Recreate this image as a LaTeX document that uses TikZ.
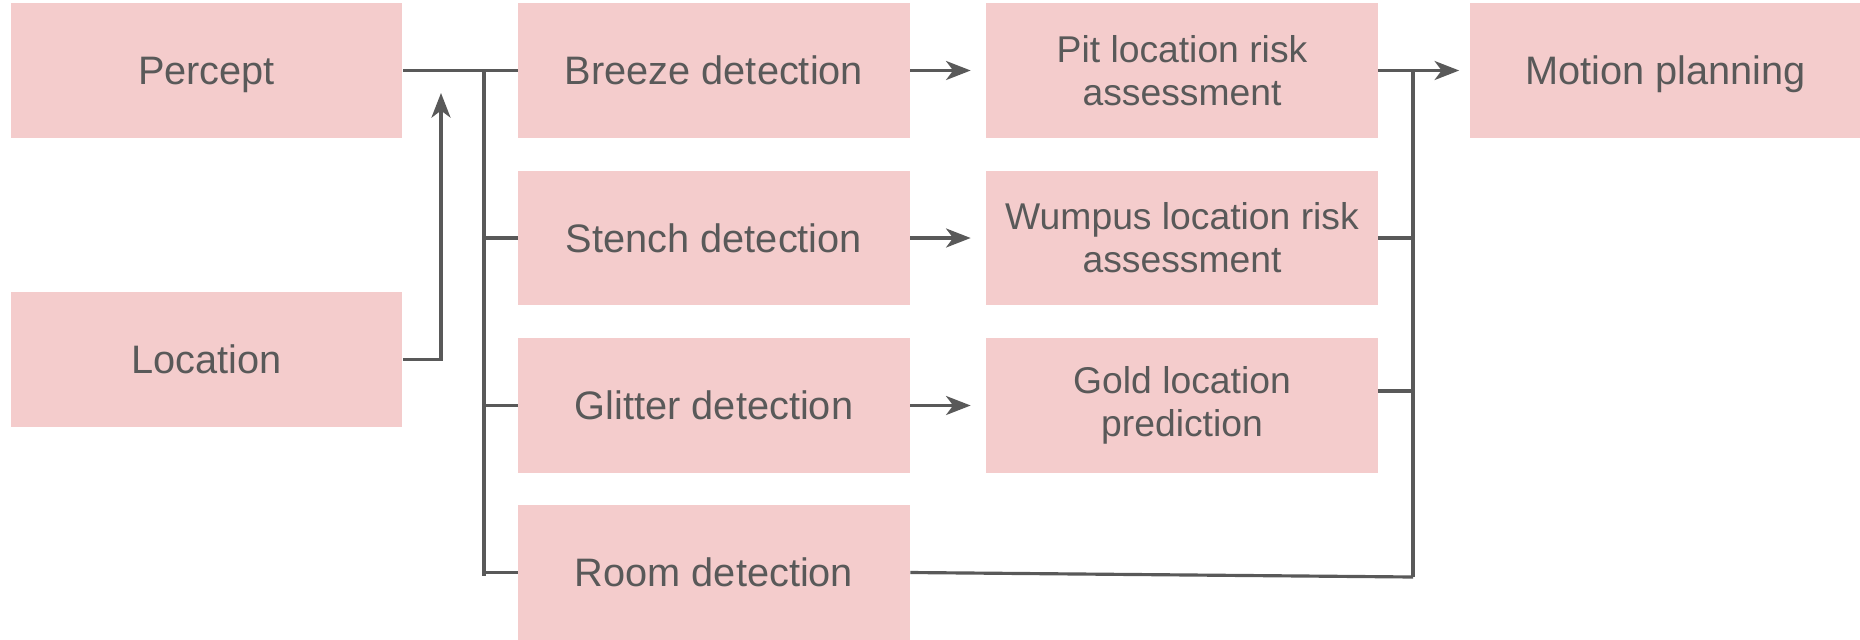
\documentclass[tikz,border=0pt]{standalone}
\usepackage{fontspec}
\setmainfont{Liberation Sans}
\usetikzlibrary{arrows.meta}
\definecolor{boxpink}{HTML}{F4CCCC}
\definecolor{inkgray}{HTML}{595959}
\tikzset{
    mybox/.style = {rectangle, inner sep=0pt, align=center, fill=boxpink, text=inkgray, minimum width=3.91cm, minimum height=1.34cm, font=\fontsize{11.3}{12.4}\selectfont, text height=8.1pt, text depth=0pt},
    myboxm/.style = {rectangle, inner sep=0pt, align=center, fill=boxpink, text=inkgray, minimum width=3.91cm, minimum height=1.34cm, font=\fontsize{10.6}{12.2}\selectfont},
    edgen/.style = {-, line width=0.9pt, inkgray},
    edgea/.style = {-{Stealth[length=7pt,width=5.4pt,inset=2pt]}, line width=0.9pt, inkgray}
}
\begin{document}
\begin{tikzpicture}[x=0.01cm,y=-0.01cm]
\useasboundingbox (0,0) rectangle (1860,639);
\node[mybox] at (206.5, 70.5) (percept) {Percept};
\node[mybox] at (206.5, 359.5) (location) {Location};
\node[mybox] at (714, 70.5) (breeze) {Breeze detection};
\node[mybox] at (714, 238) (stench) {Stench detection};
\node[mybox] at (714, 405.5) (glitter) {Glitter detection};
\node[mybox] at (714, 572.5) (room) {Room detection};
\node[myboxm] at (1182, 70.5) (pit) {Pit location risk\\assessment};
\node[myboxm] at (1182, 238) (wumpus) {Wumpus location risk\\assessment};
\node[myboxm] at (1182, 405.5) (gold) {Gold location\\prediction};
\node[mybox] at (1665.5, 70.5) (motion) {Motion planning};

\coordinate (locup) at (441, 93);
\coordinate (busltop) at (484, 70.5);
\coordinate (buslbot) at (484, 576);
\coordinate (busrtop) at (1413, 70.5);
\coordinate (busrbot) at (1413, 577);
\coordinate (goldout) at ([yshift=0.145cm]gold.east);

% inputs
\draw[edgen] (percept) -- (breeze);
\draw[edgea] (location.east) -| (locup);
\draw[edgen] (busltop) -- (buslbot);
\draw[edgen] (busltop |- stench.west) -- (stench.west);
\draw[edgen] (busltop |- glitter.west) -- (glitter.west);
\draw[edgen] (busltop |- room.west) -- (room.west);

% detection to assessment
\draw[edgea, shorten >=0.15cm] (breeze) -- (pit);
\draw[edgea, shorten >=0.15cm] (stench) -- (wumpus);
\draw[edgea, shorten >=0.15cm] (glitter) -- (gold);

% to motion planning
\draw[edgea, shorten >=0.1cm] (pit) -- (motion);
\draw[edgen] (busrtop) -- (busrbot);
\draw[edgen] (wumpus.east) -- (busrtop |- wumpus.east);
\draw[edgen] (goldout) -- (busrtop |- goldout);
\draw[edgen] (room.east) -- (busrbot);
\end{tikzpicture}
\end{document}
